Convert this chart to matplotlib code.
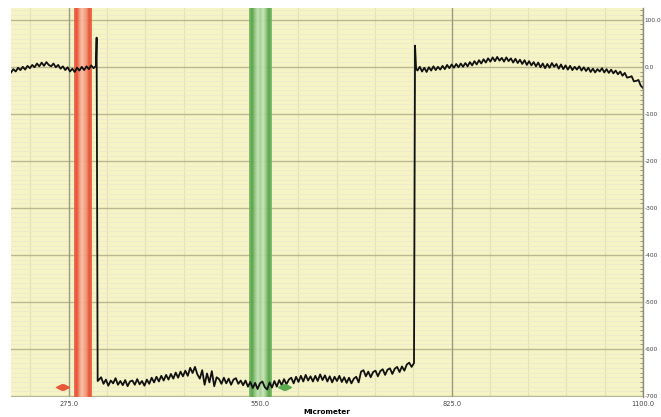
"""Profile trace with two cursor bands (red / green) on a yellow chart grid."""

import numpy as np
import matplotlib
matplotlib.use("Agg")
import matplotlib.pyplot as plt
from matplotlib.colors import LinearSegmentedColormap
from matplotlib.ticker import MultipleLocator

# --- data -------------------------------------------------------------------
# left plateau (x from 192 to 314)
left_x_range = (192.0, 314.0)
left_y = [-12, -5, -10, -2, -7, 0, -6, 2, -3, 4, -1, 7, 1, 9, 2, 10, 4, 1, 7, -1,
          4, -4, 1, -7, -1, -10, -4, -11, -2, -8, 0, -7, 1, -5, 3, -3, 2]

# first edge: spike then drop
edge1_x = [315.0, 316.5]
edge1_y = [62, -668]

# low plateau (x from 318 to 771)
low_x_range = (318.0, 771.0)
low_y = [-666, -660, -674, -665, -678, -667, -673, -662, -676, -668,
         -677, -666, -679, -669, -667, -676, -664, -675, -668, -678,
         -665, -674, -661, -671, -659, -669, -657, -667, -655, -665,
         -653, -663, -650, -661, -648, -658, -646, -657, -640, -651,
         -638, -654, -663, -645, -676, -652, -671, -647, -679, -660,
         -664, -674, -661, -673, -663, -676, -665, -662, -674, -667,
         -677, -667, -680, -670, -683, -672, -685, -673, -669, -681,
         -686, -671, -682, -668, -680, -666, -677, -664, -675, -665,
         -661, -673, -659, -670, -657, -669, -655, -667, -658, -669,
         -657, -668, -654, -666, -656, -669, -658, -671, -659, -668,
         -657, -670, -660, -672, -661, -673, -663, -659, -671, -648,
         -645, -658, -648, -660, -649, -646, -658, -647, -643, -655,
         -644, -641, -653, -642, -638, -649, -637, -646, -633, -629,
         -638, -630]

# second edge: jump up with spike
edge2_x = [772.5, 774.0]
edge2_y = [45, -4]

# right plateau (x from 776 to 1100)
right_x_range = (776.0, 1100.0)
right_y = [-8, 0, -10, -2, -11, -1, -8, 1, -7, 0,
           -6, 2, -5, 4, -3, 5, -2, 6, -1, 7,
           0, 8, 1, 10, 3, 12, 5, 14, 7, 16,
           9, 18, 11, 20, 12, 21, 13, 19, 11, 20,
           12, 18, 9, 17, 8, 15, 6, 14, 4, 12,
           3, 10, 1, 9, -1, 7, -3, 6, -2, 8,
           0, 6, -4, 5, -5, 3, -6, 2, -7, 0,
           -6, 1, -8, -1, -9, -2, -11, -4, -12, -5,
           -10, -3, -12, -5, -13, -6, -14, -8, -16, -10,
           -19, -13, -23, -22, -20, -31, -30, -28, -40, -45]

# cursor bands: (start, end) and colour stops from left to right
red_band = (282.0, 307.0)
red_stops = ["#ef6a48", "#e8452a", "#f08a6a", "#f8c0a8", "#f6a48a",
             "#f08a6a", "#e8452a", "#ef6a48"]
green_band = (534.0, 566.0)
green_stops = ["#7cbc6c", "#4f9e45", "#8cc67c", "#c0e0b0", "#a8d49a",
               "#c8e4b8", "#8cc67c", "#4f9e45", "#7cbc6c"]

# cursor handles (double arrow markers)
handle_x = [266.0, 585.0]
handle_y = [-680.0, -680.0]
handle_colors = ["#e8583a", "#5aaa50"]

x_ticks = [275, 550, 825, 1100]
x_ticklabels = ["275.0", "550.0", "825.0", "1100.0"]
y_ticks = [100, 0, -100, -200, -300, -400, -500, -600, -700]
y_ticklabels = ["100.0", "0.0", "-100", "-200", "-300", "-400",
                "-500", "-600", "-700"]

XLIM = (192, 1100)
YLIM = (-702, 125)

# --- assemble trace ----------------------------------------------------------
xs = np.concatenate([
    np.linspace(*left_x_range, len(left_y)), edge1_x,
    np.linspace(*low_x_range, len(low_y)), edge2_x,
    np.linspace(*right_x_range, len(right_y)),
])
ys = np.concatenate([left_y, edge1_y, low_y, edge2_y, right_y])

# --- figure ------------------------------------------------------------------
fig = plt.figure(figsize=(6.61, 4.17), dpi=100)
ax = fig.add_axes([11 / 661, 20 / 417, 632 / 661, 389 / 417])
ax.set_facecolor("#f6f4c4")
ax.set_axisbelow(True)

# grid: faint minor lines, then major lines on top
ax.yaxis.set_minor_locator(MultipleLocator(10))
ax.xaxis.set_minor_locator(MultipleLocator(55))
ax.grid(which="minor", axis="y", color="#ecead0", lw=0.6)
ax.grid(which="minor", axis="x", color="#e3e1b8", lw=0.8)
for yv in y_ticks:
    ax.axhline(yv, color="#b9b894", lw=1.0, zorder=0.7)
for xv in x_ticks:
    ax.axvline(xv, color="#9c9b82", lw=1.0, zorder=0.8)

# bands as smooth horizontal gradients
for (x0, x1), stops in [(red_band, red_stops), (green_band, green_stops)]:
    cmap = LinearSegmentedColormap.from_list("band", stops)
    ax.imshow(np.linspace(0, 1, 64)[None, :], cmap=cmap, aspect="auto",
              extent=(x0, x1, YLIM[0], YLIM[1]), interpolation="bilinear",
              alpha=0.93, zorder=1)

# trace
ax.plot(xs, ys, color="#111111", lw=1.3, zorder=3)

# cursor handles
for hx, hy, hc in zip(handle_x, handle_y, handle_colors):
    ax.plot([hx - 5], [hy], marker="<", color=hc, ms=4.5, zorder=4)
    ax.plot([hx + 5], [hy], marker=">", color=hc, ms=4.5, zorder=4)

ax.set_xlim(*XLIM)
ax.set_ylim(*YLIM)

# axes cosmetics
for side in ["left", "top", "bottom"]:
    ax.spines[side].set_visible(False)
ax.spines["right"].set_color("#8c8c7c")
ax.spines["right"].set_linewidth(1.0)
ax.spines["right"].set_zorder(5)

ax.yaxis.tick_right()
ax.set_yticks(y_ticks)
ax.set_yticklabels(y_ticklabels)
ax.set_xticks(x_ticks)
ax.set_xticklabels(x_ticklabels)
ax.tick_params(axis="y", which="major", length=0, pad=1, labelsize=4.2,
               labelcolor="#444444")
ax.tick_params(axis="y", which="minor", length=2, color="#8c8c7c", direction="in")
ax.tick_params(axis="x", which="both", length=0, pad=3, labelsize=4.8,
               labelcolor="#444444")
ax.set_xlabel("Micrometer", fontsize=5.2, fontweight="bold", labelpad=1)

fig.savefig("out.png", dpi=100)
